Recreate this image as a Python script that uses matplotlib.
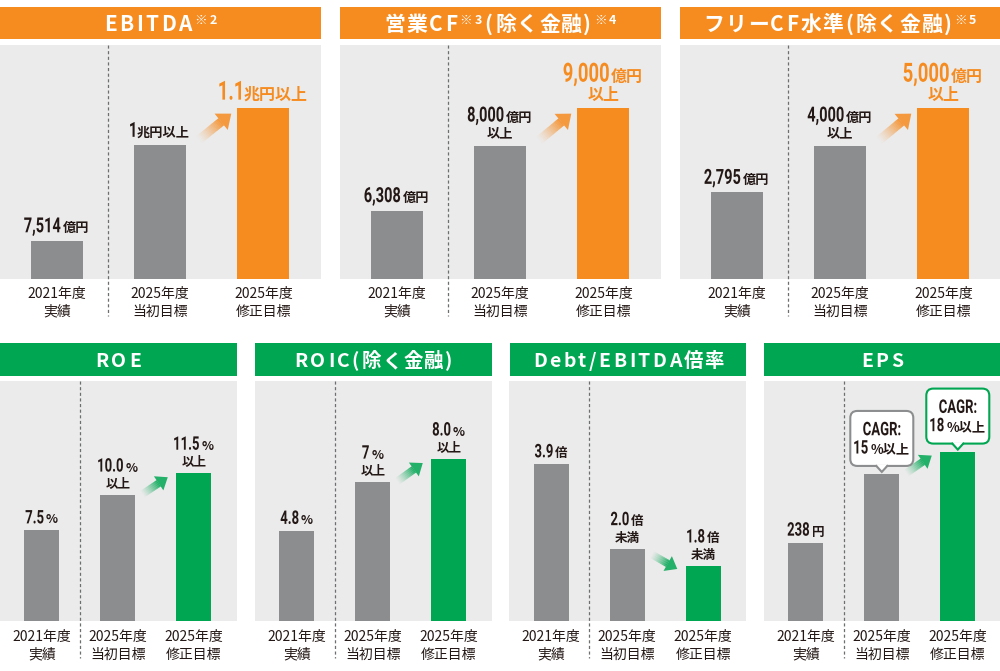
import numpy as np
import matplotlib
matplotlib.use('Agg')
import matplotlib.pyplot as plt
from matplotlib.colors import to_rgb
from matplotlib.patches import Rectangle, Polygon, FancyBboxPatch, PathPatch
from matplotlib.textpath import TextPath
from matplotlib.font_manager import FontProperties
from matplotlib.transforms import Affine2D

# ---- data ----
cats = ['2021年度\n実績', '2025年度\n当初目標', '2025年度\n修正目標']

# bar heights as drawn (schematic graphic, % of the panel height)
ebitda_h = [16.2, 57.0, 73.1]
opcf_h = [29.1, 56.7, 73.1]
fcf_h = [36.9, 56.7, 73.1]
roe_h = [37.7, 52.4, 61.5]
roic_h = [37.5, 57.8, 67.4]
debt_h = [65.2, 30.1, 22.9]
eps_h = [32.6, 61.2, 70.5]

# value labels: '|' switches big number <-> small unit, '\n' starts a new line
ebitda_lbl = ['7,514|億円', '1|兆円以上', '1.1|兆円以上']
opcf_lbl = ['6,308|億円', '8,000|億円\n|以上', '9,000|億円\n|以上']
fcf_lbl = ['2,795|億円', '4,000|億円\n|以上', '5,000|億円\n|以上']
roe_lbl = ['7.5|%', '10.0|%\n|以上', '11.5|%\n|以上']
roic_lbl = ['4.8|%', '7|%\n|以上', '8.0|%\n|以上']
debt_lbl = ['3.9|倍', '2.0|倍\n|未満', '1.8|倍\n|未満']
eps_lbl = ['238|円', '', '']
eps_cagr = ['', 'CAGR:\n15|%以上', 'CAGR:\n18|%以上']

# panel titles, '^' = note superscript
titles_top = [['EBITDA', '^※2'], ['営業CF', '^※3', '(除く金融)', '^※4'],
              ['フリーCF水準(除く金融)', '^※5']]
titles_bottom = [['ROE'], ['ROIC(除く金融)'], ['Debt/EBITDA倍率'], ['EPS']]

# ---- style ----
ORANGE = '#f68b1f'
GREEN = '#00a651'
GRAY = '#8c8d8f'
BG = '#ebebeb'
INK = '#231815'
JP = ['Noto Sans CJK JP', 'DejaVu Sans']
NUMFP = FontProperties(family='Roboto', weight='bold')
SX = 0.7  # horizontal squeeze for the condensed look of the numbers

W, H = 1000, 671
fig = plt.figure(figsize=(W / 100, H / 100), dpi=100)
R = fig.canvas.get_renderer()

# overlay in pixel coordinates (y downwards) for headers, labels and decorations
ov = fig.add_axes([0, 0, 1, 1])
ov.set_xlim(0, W)
ov.set_ylim(H, 0)
ov.axis('off')
ov.patch.set_visible(False)
ov.set_zorder(10)


def st(fam, size, color=INK, weight='bold'):
    return dict(family=fam, size=size, color=color, weight=weight)


def num(size, color=INK):
    return dict(kind='num', size=size, color=color)


def text_w(s, style):
    if style.get('kind') == 'num':
        p = TextPath((0, 0), s, size=style['size'] * 100 / 72, prop=NUMFP)
        return p.get_extents().width * SX
    t = ov.text(0, 0, s, **style)
    w = t.get_window_extent(R).width
    t.remove()
    return w


def draw(x, base, s, sty, ha='left'):
    if sty.get('kind') == 'num':
        p = TextPath((0, 0), s, size=sty['size'] * 100 / 72, prop=NUMFP)
        x0 = p.get_extents().x0
        tr = Affine2D().translate(-x0, 0).scale(SX, -1).translate(x, base) + ov.transData
        ov.add_patch(PathPatch(p, fc=sty['color'], lw=0, transform=tr, zorder=6))
    else:
        ov.text(x, base, s, ha=ha, va='baseline', zorder=6, **sty)


def run(parts, cx, base, sep=2.5, trk=None):
    # parts: (string, style, dy) laid out on one baseline, centred on cx
    pieces = []
    for s, sty, dy in parts:
        if trk is None:
            pieces.append((s, sty, dy, text_w(s, sty) + sep, 'left'))
            continue
        for ch in s:
            if ord(ch) >= 0x3000:
                em = sty['size'] * 100 / 72
                pieces.append((ch, sty, dy, em + trk * 0.5, 'center'))
            else:
                pieces.append((ch, sty, dy, text_w(ch, sty) + trk, 'left'))
    total = sum(p[3] for p in pieces) - (sep if trk is None else trk)
    x = cx - total / 2
    for s, sty, dy, w, ha in pieces:
        xx = x + (w - (trk or 0) * 0.5) / 2 if ha == 'center' else x
        draw(xx, base + dy, s, sty, ha)
        x += w


def to_px(ax, x, y):
    dx, dy = ax.transData.transform((x, y))
    return dx, H - dy


def blend(c1, c2, t):
    a, b = np.array(to_rgb(c1)), np.array(to_rgb(c2))
    return tuple(a + (b - a) * t)


def arrow(p0, p1, color, hw, hh, hl, n=16):
    p0, p1 = np.array(p0), np.array(p1)
    d = p1 - p0
    u = d / np.hypot(*d)
    nrm = np.array([-u[1], u[0]])
    base = p1 - u * hl
    for i in range(n):
        a = p0 + (base - p0) * i / n
        b = p0 + (base - p0) * (i + 1.2) / n
        c = blend(BG, color, ((i + 1) / n) ** 1.3)
        ov.add_patch(Polygon([a + nrm * hw, b + nrm * hw, b - nrm * hw, a - nrm * hw],
                             closed=True, fc=c, lw=0))
    ov.add_patch(Polygon([base + nrm * hh, p1, base - nrm * hh], closed=True, fc=color, lw=0))


rows = {
    'top': dict(hdr=(7.3, 31.7), plot=(44.7, 234.0), bw=0.503, tsize=15, tbase=30.7,
                num=15, unit=9.5, pitch=16, gap=8.5, accent=ORANGE, cat_bottom=316,
                arr=(4.5, 10.5, 13), tail=(0.26, -6), tip=(0.12, 6), pad=6),
    'bottom': dict(hdr=(343.3, 32.4), plot=(380.7, 240.3), bw=0.457, tsize=14, tbase=367,
                   num=13.5, unit=9, pitch=16.5, gap=7, accent=GREEN, cat_bottom=658,
                   arr=(3.8, 8.5, 11), tail=(0.18, -1), tip=(0.21, 4), pad=6.5),
}


def panel(row, left, width, title, heights, labels):
    c = rows[row]
    top, ph = c['plot']
    ax = fig.add_axes([left / W, 1 - (top + ph) / H, width / W, ph / H])
    ax.set_facecolor(BG)
    x = np.arange(3)
    ax.bar(x, heights, width=c['bw'], color=[GRAY, GRAY, c['accent']], zorder=2)
    ax.set_xlim(-0.55, -0.55 + width / (103.3 if row == 'top' else 76.0))
    ax.set_ylim(0, 100)
    for s in ax.spines.values():
        s.set_visible(False)
    ax.set_yticks([])
    ax.set_xticks(x)
    ax.set_xticklabels(cats, family=JP, size=10, color=INK, linespacing=1.35)
    ax.tick_params(axis='x', length=0, pad=c['pad'])

    # header bar with title
    hy, hh = c['hdr']
    ov.add_patch(Rectangle((left, hy), width, hh, color=c['accent'], lw=0))
    parts = []
    for p in title:
        if p.startswith('^'):
            parts.append((p[1:], st(JP, 9, 'white'), -6.5))
        else:
            parts.append((p, st(JP, c['tsize'], 'white'), 0))
    run(parts, left + width / 2, c['tbase'], trk=2.5)

    # dotted divider between actual and targets
    dx, dy = to_px(ax, 0.5, 100)
    ov.plot([dx, dx], [dy, c['cat_bottom']], color='#6d6e70', lw=0.9, ls=(0, (2.5, 2)))

    # value labels
    for i, lbl in enumerate(labels):
        if not lbl:
            continue
        hl = row == 'top' and i == 2
        col = ORANGE if hl else INK
        nsz, usz = (19, 11.5) if hl else (c['num'], c['unit'])
        pitch, gap = (18, 8) if hl else (c['pitch'], c['gap'])
        cx, ty = to_px(ax, i, heights[i])
        lines = lbl.split('\n')
        for k, line in enumerate(reversed(lines)):
            pieces = []
            for j, s in enumerate(line.split('|')):
                if s:
                    sty = num(nsz, col) if j % 2 == 0 else st(JP, usz, col)
                    pieces.append((s, sty, 0))
            run(pieces, cx, ty - gap - k * pitch)

    # arrow from the original target to the revised one
    x2r, y2 = to_px(ax, 1 + c['bw'] / 2, heights[1])
    x3l, y3 = to_px(ax, 2 - c['bw'] / 2, heights[2])
    g = x3l - x2r
    up = y3 < y2
    p0 = (x2r + c['tail'][0] * g, y2 + (c['tail'][1] if up else 6))
    p1 = (x3l - c['tip'][0] * g, y3 + (c['tip'][1] if up else 3))
    arrow(p0, p1, blend(BG, c['accent'], 0.85), *c['arr'])
    return ax


panel('top', 0, 321, titles_top[0], ebitda_h, ebitda_lbl)
panel('top', 340, 321, titles_top[1], opcf_h, opcf_lbl)
panel('top', 680, 320, titles_top[2], fcf_h, fcf_lbl)
panel('bottom', 0, 236.5, titles_bottom[0], roe_h, roe_lbl)
panel('bottom', 255, 236.5, titles_bottom[1], roic_h, roic_lbl)
panel('bottom', 509.5, 236.5, titles_bottom[2], debt_h, debt_lbl)
ax_eps = panel('bottom', 764, 236, titles_bottom[3], eps_h, eps_lbl)

# EPS speech bubbles with CAGR targets
for i, lbl in enumerate(eps_cagr):
    if not lbl:
        continue
    ec = GRAY if i == 1 else GREEN
    cx, ty = to_px(ax_eps, i, eps_h[i])
    bot = ty - 8
    bw, bh = 63, 55
    ov.add_patch(FancyBboxPatch((cx - bw / 2, bot - bh), bw, bh,
                                boxstyle='round,pad=0,rounding_size=7',
                                fc='white', ec=ec, lw=1.5, zorder=3))
    ov.add_patch(Polygon([(cx - 5.5, bot - 1.5), (cx, bot + 6), (cx + 5.5, bot - 1.5)],
                         closed=True, fc='white', lw=0, zorder=4))
    ov.plot([cx - 5.5, cx, cx + 5.5], [bot, bot + 6, bot], color=ec, lw=1.5, zorder=5,
            solid_joinstyle='miter')
    lines = lbl.split('\n')
    for k, line in enumerate(lines):
        pieces = []
        for j, s in enumerate(line.split('|')):
            if s:
                sty = num(13.5) if j % 2 == 0 else st(JP, 9.5)
                pieces.append((s, sty, 0))
        run(pieces, cx, bot - bh + 24.3 + k * 18.3)

fig.savefig('out.png', dpi=100)
